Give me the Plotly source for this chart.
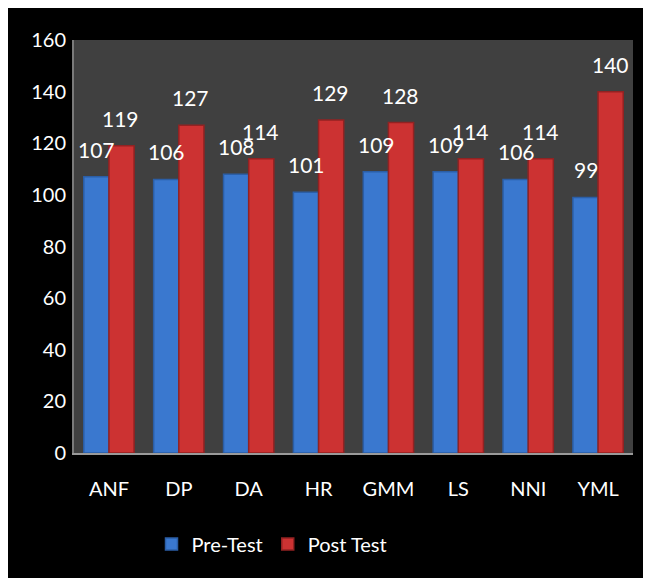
import plotly.graph_objects as go

categories = ["ANF", "DP", "DA", "HR", "GMM", "LS", "NNI", "YML"]
pre_test = [107, 106, 108, 101, 109, 109, 106, 99]
post_test = [119, 127, 114, 129, 128, 114, 114, 140]
y_ticks = [0, 20, 40, 60, 80, 100, 120, 140, 160]

FONT = "Lato"
BLUE = "#3a78cf"
RED = "#cc3232"

fig = go.Figure()
fig.add_trace(go.Bar(x=categories, y=pre_test, name="Pre-Test",
                     marker=dict(color=BLUE, line=dict(color="#2b5ea6", width=1.5))))
fig.add_trace(go.Bar(x=categories, y=post_test, name="Post Test",
                     marker=dict(color=RED, line=dict(color="#922222", width=1.5))))

annotations = []
for c, v in zip(categories, pre_test):
    annotations.append(dict(x=c, y=v, text=str(v), showarrow=False, xshift=-12,
                            yanchor="bottom", yshift=13,
                            font=dict(family=FONT, size=21, color="white")))
for c, v in zip(categories, post_test):
    annotations.append(dict(x=c, y=v, text=str(v), showarrow=False, xshift=12,
                            yanchor="bottom", yshift=13,
                            font=dict(family=FONT, size=21, color="white")))

# page body adds an 8px white margin; the figure fills the rest of the window
W, H = 643, 570
L, R, T, B = 66, 18, 32, 125
pw = W - L - R
ph = H - T - B

def px_x(p):
    return (p - L) / pw

def px_y(p):
    return (H - B - p) / ph

fig.update_layout(
    width=W, height=H,
    margin=dict(l=L, r=R, t=T, b=B, pad=0),
    paper_bgcolor="black",
    plot_bgcolor="#404040",
    barmode="group",
    bargap=0.28,
    bargroupgap=0.0,
    font=dict(family=FONT, size=20, color="white"),
    showlegend=True,
    legend=dict(orientation="h", x=px_x(264), xanchor="center", y=px_y(536), yanchor="middle",
                font=dict(family=FONT, size=20, color="white"), bgcolor="rgba(0,0,0,0)",
                itemwidth=30),
    annotations=annotations,
)
fig.update_xaxes(showgrid=False, showline=True, linecolor="#9a9a9a", linewidth=2,
                 ticks="outside", ticklen=17, tickcolor="rgba(0,0,0,0)",
                 tickfont=dict(family=FONT, size=20, color="white"))
fig.update_yaxes(range=[0, 160], tickvals=y_ticks, showgrid=False, zeroline=False,
                 showline=True, linecolor="#7a7a7a", linewidth=2,
                 ticks="outside", ticklen=2, tickcolor="rgba(0,0,0,0)",
                 tickfont=dict(family=FONT, size=20, color="white"))

fig.write_html("out.html")
